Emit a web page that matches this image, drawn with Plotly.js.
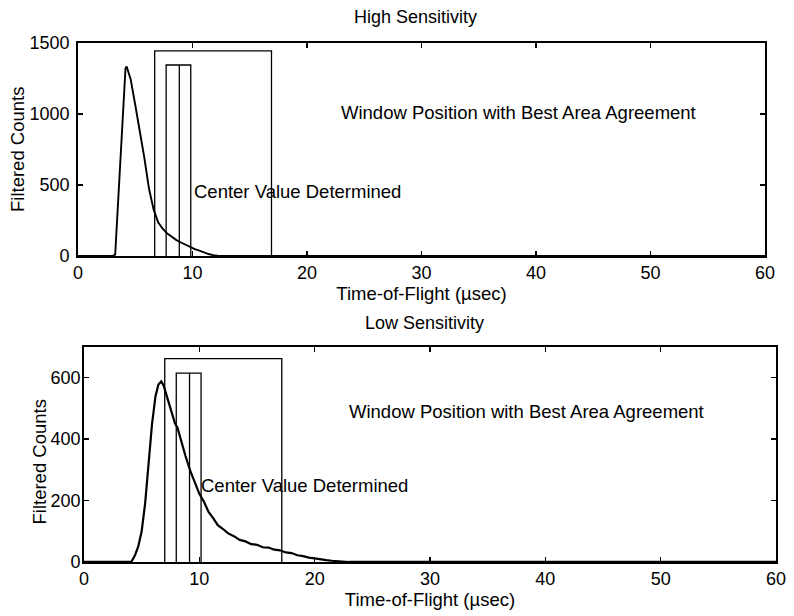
<!DOCTYPE html>
<html>
<head>
<meta charset="utf-8">
<script src="https://cdn.plot.ly/plotly-3.0.1.min.js"></script>
<style>html,body{margin:0;padding:0;background:#fff;}#chart{width:794px;height:616px;}</style>
</head>
<body>
<div id="chart"></div>
<script>
// ---- High Sensitivity panel ----
var highTime   = [0, 3.0, 3.25, 3.5, 3.8, 4.0, 4.15, 4.25, 4.4, 4.6, 5.0, 5.4, 5.8, 6.2, 6.6, 7.0, 7.4, 7.8, 8.2, 8.6, 9.0, 9.4, 9.8, 10.2, 10.6, 11.0, 11.4, 11.8, 12.2, 13.0, 60];
var highCounts = [0, 0, 10, 380, 850, 1150, 1320, 1335, 1300, 1245, 1065, 890, 690, 475, 330, 238, 192, 158, 133, 112, 95, 78, 63, 49, 38, 25, 14, 6, 2, 0, 0];
var highWideWindowX   = [6.7, 6.7, 16.9, 16.9];
var highWideWindowY   = [0, 1445, 1445, 0];
var highNarrowWindowX = [7.7, 7.7, 9.85, 9.85];
var highNarrowWindowY = [0, 1345, 1345, 0];
var highCenterX = [8.85, 8.85];
var highCenterY = [0, 1345];

// ---- Low Sensitivity panel ----
var lowTime   = [0, 4.1, 4.4, 4.7, 5.0, 5.3, 5.6, 5.9, 6.2, 6.45, 6.7, 6.9, 7.1, 7.4, 7.7, 7.9, 8.1, 8.4, 8.8, 9.2, 9.6, 10.0, 10.4, 10.8, 11.2, 11.6, 12.0, 12.5, 13.0, 13.5, 14.0, 14.5, 15.0, 15.5, 16.0, 16.5, 17.0, 17.5, 18.0, 18.5, 19.0, 19.5, 20.0, 20.5, 21.0, 21.5, 22.0, 23.0, 60];
var lowCounts = [0, 0, 20, 50, 100, 190, 320, 450, 540, 578, 588, 575, 550, 510, 472, 450, 438, 395, 345, 298, 262, 222, 196, 163, 143, 120, 109, 93, 84, 72, 67, 58, 56, 48, 47, 40, 38, 31, 29, 22, 19, 14, 12, 8, 6, 4, 2, 0, 0];
var lowWideWindowX   = [7.0, 7.0, 17.15, 17.15];
var lowWideWindowY   = [0, 662, 662, 0];
var lowNarrowWindowX = [8.0, 8.0, 10.15, 10.15];
var lowNarrowWindowY = [0, 615, 615, 0];
var lowCenterX = [9.15, 9.15];
var lowCenterY = [0, 615];

// ---- Axis ticks and texts ----
var timeTicks = [0, 10, 20, 30, 40, 50, 60];
var highCountTicks = [0, 500, 1000, 1500];
var lowCountTicks = [0, 200, 400, 600];
var panelTitles = ['High Sensitivity', 'Low Sensitivity'];
var xTitle = 'Time-of-Flight (µsec)';
var yTitle = 'Filtered Counts';
var windowNote = 'Window Position with Best Area Agreement';
var centerNote = 'Center Value Determined';

function lineTrace(x, y, xa, ya, w) {
  return {x: x, y: y, xaxis: xa, yaxis: ya, type: 'scatter', mode: 'lines',
          line: {color: '#000', width: w}, hoverinfo: 'skip'};
}

var data = [
  lineTrace(highWideWindowX, highWideWindowY, 'x', 'y', 1.3),
  lineTrace(highNarrowWindowX, highNarrowWindowY, 'x', 'y', 1.3),
  lineTrace(highCenterX, highCenterY, 'x', 'y', 1.3),
  lineTrace(highTime, highCounts, 'x', 'y', 1.9),
  lineTrace(lowWideWindowX, lowWideWindowY, 'x2', 'y2', 1.3),
  lineTrace(lowNarrowWindowX, lowNarrowWindowY, 'x2', 'y2', 1.3),
  lineTrace(lowCenterX, lowCenterY, 'x2', 'y2', 1.3),
  lineTrace(lowTime, lowCounts, 'x2', 'y2', 2.2)
];

var FONT = 'Liberation Sans, Arial, Helvetica, sans-serif';
var TXT = 18.5;
function xAxis(domain, anchor) {
  return {domain: domain, anchor: anchor, range: [0, 60], tickvals: timeTicks,
    ticks: 'inside', ticklen: 5, tickwidth: 1.4, tickcolor: '#000', mirror: 'ticks',
    showline: true, linecolor: '#000', linewidth: 1.8, showgrid: false, zeroline: false,
    ticklabelstandoff: 0, automargin: false,
    tickfont: {family: FONT, size: 18, color: '#000'},
    title: {text: xTitle, font: {family: FONT, size: TXT, color: '#000'}, standoff: 3}};
}
function yAxis(domain, anchor, range, ticks, labelGap) {
  return {domain: domain, anchor: anchor, range: range, tickvals: ticks,
    ticks: 'inside', ticklen: 5, tickwidth: 1.4, tickcolor: '#000', mirror: 'ticks',
    showline: true, linecolor: '#000', linewidth: 1.8, showgrid: false, zeroline: false,
    ticklabelstandoff: labelGap, automargin: false,
    tickfont: {family: FONT, size: 18, color: '#000'}};
}
function note(text, xref, yref, x, y, xanchor, angle, size) {
  return {text: text, xref: xref, yref: yref, x: x, y: y, xanchor: xanchor, yanchor: 'middle',
          textangle: angle || 0, showarrow: false, font: {family: FONT, size: size || TXT, color: '#000'}};
}

var layout = {
  width: 794, height: 616,
  margin: {l: 0, r: 0, t: 0, b: 0},
  paper_bgcolor: '#fff', plot_bgcolor: '#fff',
  showlegend: false,
  font: {family: FONT, size: 18, color: '#000'},
  xaxis: xAxis([0.0982, 0.9635], 'y'),
  yaxis: yAxis([0.5844, 0.9302], 'x', [0, 1500], highCountTicks, 3),
  xaxis2: xAxis([0.1058, 0.9773], 'y2'),
  yaxis2: yAxis([0.0877, 0.4367], 'x2', [0, 700], lowCountTicks, -2),
  annotations: [
    note(panelTitles[0], 'paper', 'paper', 0.5227, 0.9724, 'center', 0, 18),
    note(panelTitles[1], 'paper', 'paper', 0.535, 0.4756, 'center', 0, 18),
    note(yTitle, 'paper', 'paper', 0.0227, 0.7565, 'center', -90),
    note(yTitle, 'paper', 'paper', 0.0485, 0.25, 'center', -90),
    note(windowNote, 'x', 'y', 22.8, 1010, 'left'),
    note(centerNote, 'x', 'y', 9.95, 455, 'left'),
    note(windowNote, 'x2', 'y2', 22.8, 490, 'left'),
    note(centerNote, 'x2', 'y2', 9.95, 248, 'left')
  ]
};

Plotly.newPlot('chart', data, layout, {displayModeBar: false, staticPlot: true});
</script>
</body>
</html>
